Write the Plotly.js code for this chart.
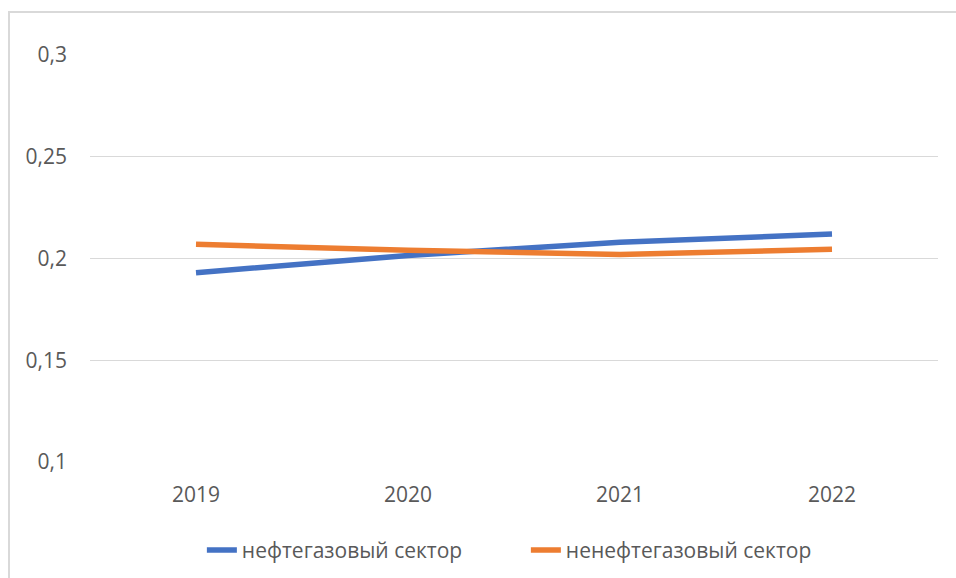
<!DOCTYPE html>
<html>
<head>
<meta charset="utf-8">
<script src="https://cdn.plot.ly/plotly-3.0.1.min.js"></script>
<style>
  html, body { margin: 0; padding: 0; background: #ffffff; overflow: hidden; }
  #frame {
    position: absolute; left: 8px; top: 11px; width: 960px; height: 580px;
    border-left: 2px solid #d9d9d9; border-top: 2px solid #d9d9d9;
    box-sizing: border-box; pointer-events: none; z-index: 2;
  }
  #chart { position: absolute; left: 0; top: 0; width: 956px; height: 578px; }
</style>
</head>
<body>
<div id="chart"></div>
<div id="frame"></div>
<script>
// Years on the category axis
const years = ['2019', '2020', '2021', '2022'];

// Ratio by sector
const oilGas = [0.193, 0.2015, 0.208, 0.212];
const nonOilGas = [0.207, 0.204, 0.202, 0.2045];

// Y axis ticks
const yTicks = [0.1, 0.15, 0.2, 0.25, 0.3];

const font = { family: 'Open Sans, Noto Sans, sans-serif', size: 21, color: '#595959' };

const traces = [
  {
    x: years, y: oilGas, type: 'scatter', mode: 'lines',
    name: 'нефтегазовый сектор',
    line: { color: '#4472C4', width: 5.5 }
  },
  {
    x: years, y: nonOilGas, type: 'scatter', mode: 'lines',
    name: 'ненефтегазовый сектор',
    line: { color: '#ED7D31', width: 5.5 }
  }
];

const layout = {
  width: 956, height: 578,
  margin: { l: 90, r: 18, t: 55, b: 116 },
  paper_bgcolor: '#ffffff', plot_bgcolor: '#ffffff',
  separators: ', ',
  font: font,
  showlegend: true,
  legend: {
    orientation: 'h', xref: 'paper', x: 0.514, xanchor: 'center',
    yref: 'container', y: 0.048, yanchor: 'middle',
    font: font, entrywidth: 279, entrywidthmode: 'pixels', tracegroupgap: 0
  },
  xaxis: {
    type: 'category', range: [-0.5, 3.5],
    showgrid: false, zeroline: false, showline: false,
    ticks: '', ticklabelstandoff: 18, tickfont: font
  },
  yaxis: {
    range: [0.1, 0.3], tickvals: yTicks,
    showgrid: true, gridcolor: '#d9d9d9', gridwidth: 1,
    zeroline: false, showline: false, ticks: '',
    ticklabelstandoff: 22, tickfont: font
  }
};

Plotly.newPlot('chart', traces, layout, { displayModeBar: false, staticPlot: true });
</script>
</body>
</html>
